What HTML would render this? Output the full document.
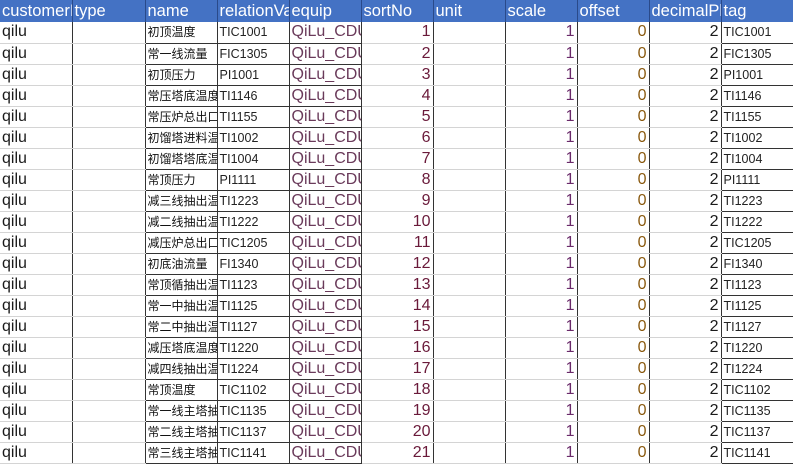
<!DOCTYPE html>
<html><head><meta charset="utf-8">
<style>
html,body{margin:0;padding:0;background:#fff;width:793px;height:463px;overflow:hidden}
table{border-collapse:collapse;table-layout:fixed;position:absolute;left:0;top:0;width:793px}
td,th{padding:0 0 0 2px;height:21px;box-sizing:border-box;overflow:hidden;white-space:nowrap;font-family:"Liberation Sans","Noto Sans CJK SC",sans-serif;font-size:16px;line-height:20px;border-left:1px solid #333;border-bottom:1px solid #d4d4d4}
th{background:#4472C4;color:#fff;font-weight:normal;text-align:left;height:22px;border-left:1px solid #2a4a8a;border-bottom:none;font-size:16.5px}
td.d{border-bottom-color:#333}
td.cn{font-size:12px;color:#111}
td.code{font-size:12.5px;color:#222}
td.r{text-align:right;padding:0 2px 0 0}
.c1{color:#1a1a1a}.ceq{color:#6a3a5a}.cs{color:#6a1a3a}.csc{color:#6a2a6a}.co{color:#8a5a10}
</style></head><body>
<table>
<colgroup><col style="width:72px"><col style="width:73px"><col style="width:72px"><col style="width:72px"><col style="width:72px"><col style="width:72px"><col style="width:72px"><col style="width:72px"><col style="width:72px"><col style="width:72px"><col style="width:72px"></colgroup>
<thead><tr>
<th style="border-left:none">customerId</th>
<th>type</th>
<th>name</th>
<th>relationValue</th>
<th>equip</th>
<th>sortNo</th>
<th>unit</th>
<th>scale</th>
<th>offset</th>
<th>decimalPlaces</th>
<th>tag</th>
</tr></thead>
<tbody id="tb"></tbody></table>
<script>
const names=["初顶温度","常一线流量","初顶压力","常压塔底温度","常压炉总出口","初馏塔进料温","初馏塔塔底温","常顶压力","减三线抽出温","减二线抽出温","减压炉总出口","初底油流量","常顶循抽出温","常一中抽出温","常二中抽出温","减压塔底温度","减四线抽出温","常顶温度","常一线主塔抽","常二线主塔抽","常三线主塔抽"];
const tags=["TIC1001","FIC1305","PI1001","TI1146","TI1155","TI1002","TI1004","PI1111","TI1223","TI1222","TIC1205","FI1340","TI1123","TI1125","TI1127","TI1220","TI1224","TIC1102","TIC1135","TIC1137","TIC1141"];
const tb=document.getElementById('tb');
tags.forEach((t,i)=>{
 const tr=document.createElement('tr');
 
 
 const cells=[["qilu","c1",""],["","",""],[names[i],"cn d",""],[t,"code d",""],["QiLu_CDU","ceq d",""],[String(i+1),"cs r",""],["","",""],["1","csc r",""],["0","co r",""],["2","c1 r",""],[t,"code d",""]];
 const nm=["customerid-cell","type-cell","name-cell","relationvalue-cell","equip-cell","sortno-cell","unit-cell","scale-cell","offset-cell","decimalplaces-cell","tag-cell"];
 cells.forEach((c,j)=>{
  const td=document.createElement('td');
  td.textContent=c[0];
  td.className=c[1];
  if(j===0) td.style.borderLeft='none';
  
  
  tr.appendChild(td);
 });
 tb.appendChild(tr);
});
</script>
</body></html>
